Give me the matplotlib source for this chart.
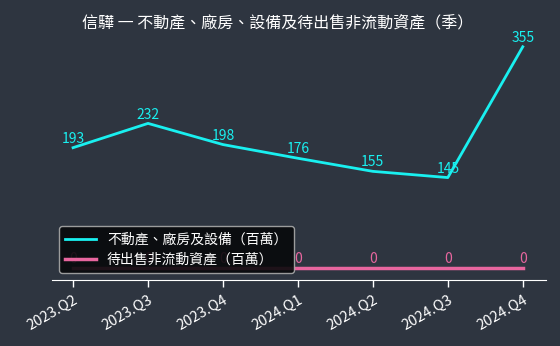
import matplotlib
matplotlib.use("Agg")
import matplotlib.pyplot as plt

plt.rcParams['font.family'] = ['Noto Sans CJK TC', 'DejaVu Sans']

quarters = ['2023.Q2', '2023.Q3', '2023.Q4', '2024.Q1', '2024.Q2', '2024.Q3', '2024.Q4']
ppe = [193, 232, 198, 176, 155, 145, 355]
held_for_sale = [0, 0, 0, 0, 0, 0, 0]
name_ppe = '不動產、廠房及設備（百萬）'
name_hfs = '待出售非流動資產（百萬）'
title = '信驊 一 不動產、廠房、設備及待出售非流動資產（季）'

bg = '#2e3540'
cyan = '#19f0f0'
pink = '#e8669f'

fig = plt.figure(figsize=(5.6, 3.46), dpi=100, facecolor=bg)
ax = fig.add_axes([0.093, 0.191, 0.882, 0.708], facecolor=bg)

x = list(range(len(quarters)))
ax.plot(x, ppe, color=cyan, lw=2, label=name_ppe, zorder=3)
ax.plot(x, held_for_sale, color=pink, lw=2.5, label=name_hfs, zorder=3)

for xi, v in zip(x, ppe):
    ax.text(xi, v + 3, f'{v}', color=cyan, ha='center', va='bottom', fontsize=10, zorder=4)
for xi, v in zip(x, held_for_sale):
    ax.text(xi, v + 3, f'{v}', color=pink, ha='center', va='bottom', fontsize=10, zorder=4)

ax.set_xlim(-0.28, 6.31)
ax.set_ylim(-19.3, 374)
ax.set_xticks(x)
ax.set_xticklabels(quarters, rotation=30, ha='right', rotation_mode='anchor', color='white', fontsize=10.5)
ax.set_yticks([])
for s in ['left', 'right', 'top']:
    ax.spines[s].set_visible(False)
ax.spines['bottom'].set_color('white')
ax.tick_params(axis='x', colors='white', length=5, width=1, pad=4)
for lbl in ax.get_xticklabels():
    lbl.set_color('white')

leg = ax.legend(loc='lower left', bbox_to_anchor=(0.0, 0.0), fontsize=10, facecolor='#08090b',
                edgecolor='#aaaaaa', framealpha=0.9, labelcolor='white', handlelength=2.2,
                borderpad=0.45, labelspacing=0.45)
leg.set_zorder(5)

fig.text(0.495, 0.935, title, ha='center', va='center', color='white', fontsize=11.5)

fig.savefig('out.png', dpi=100, facecolor=bg)
